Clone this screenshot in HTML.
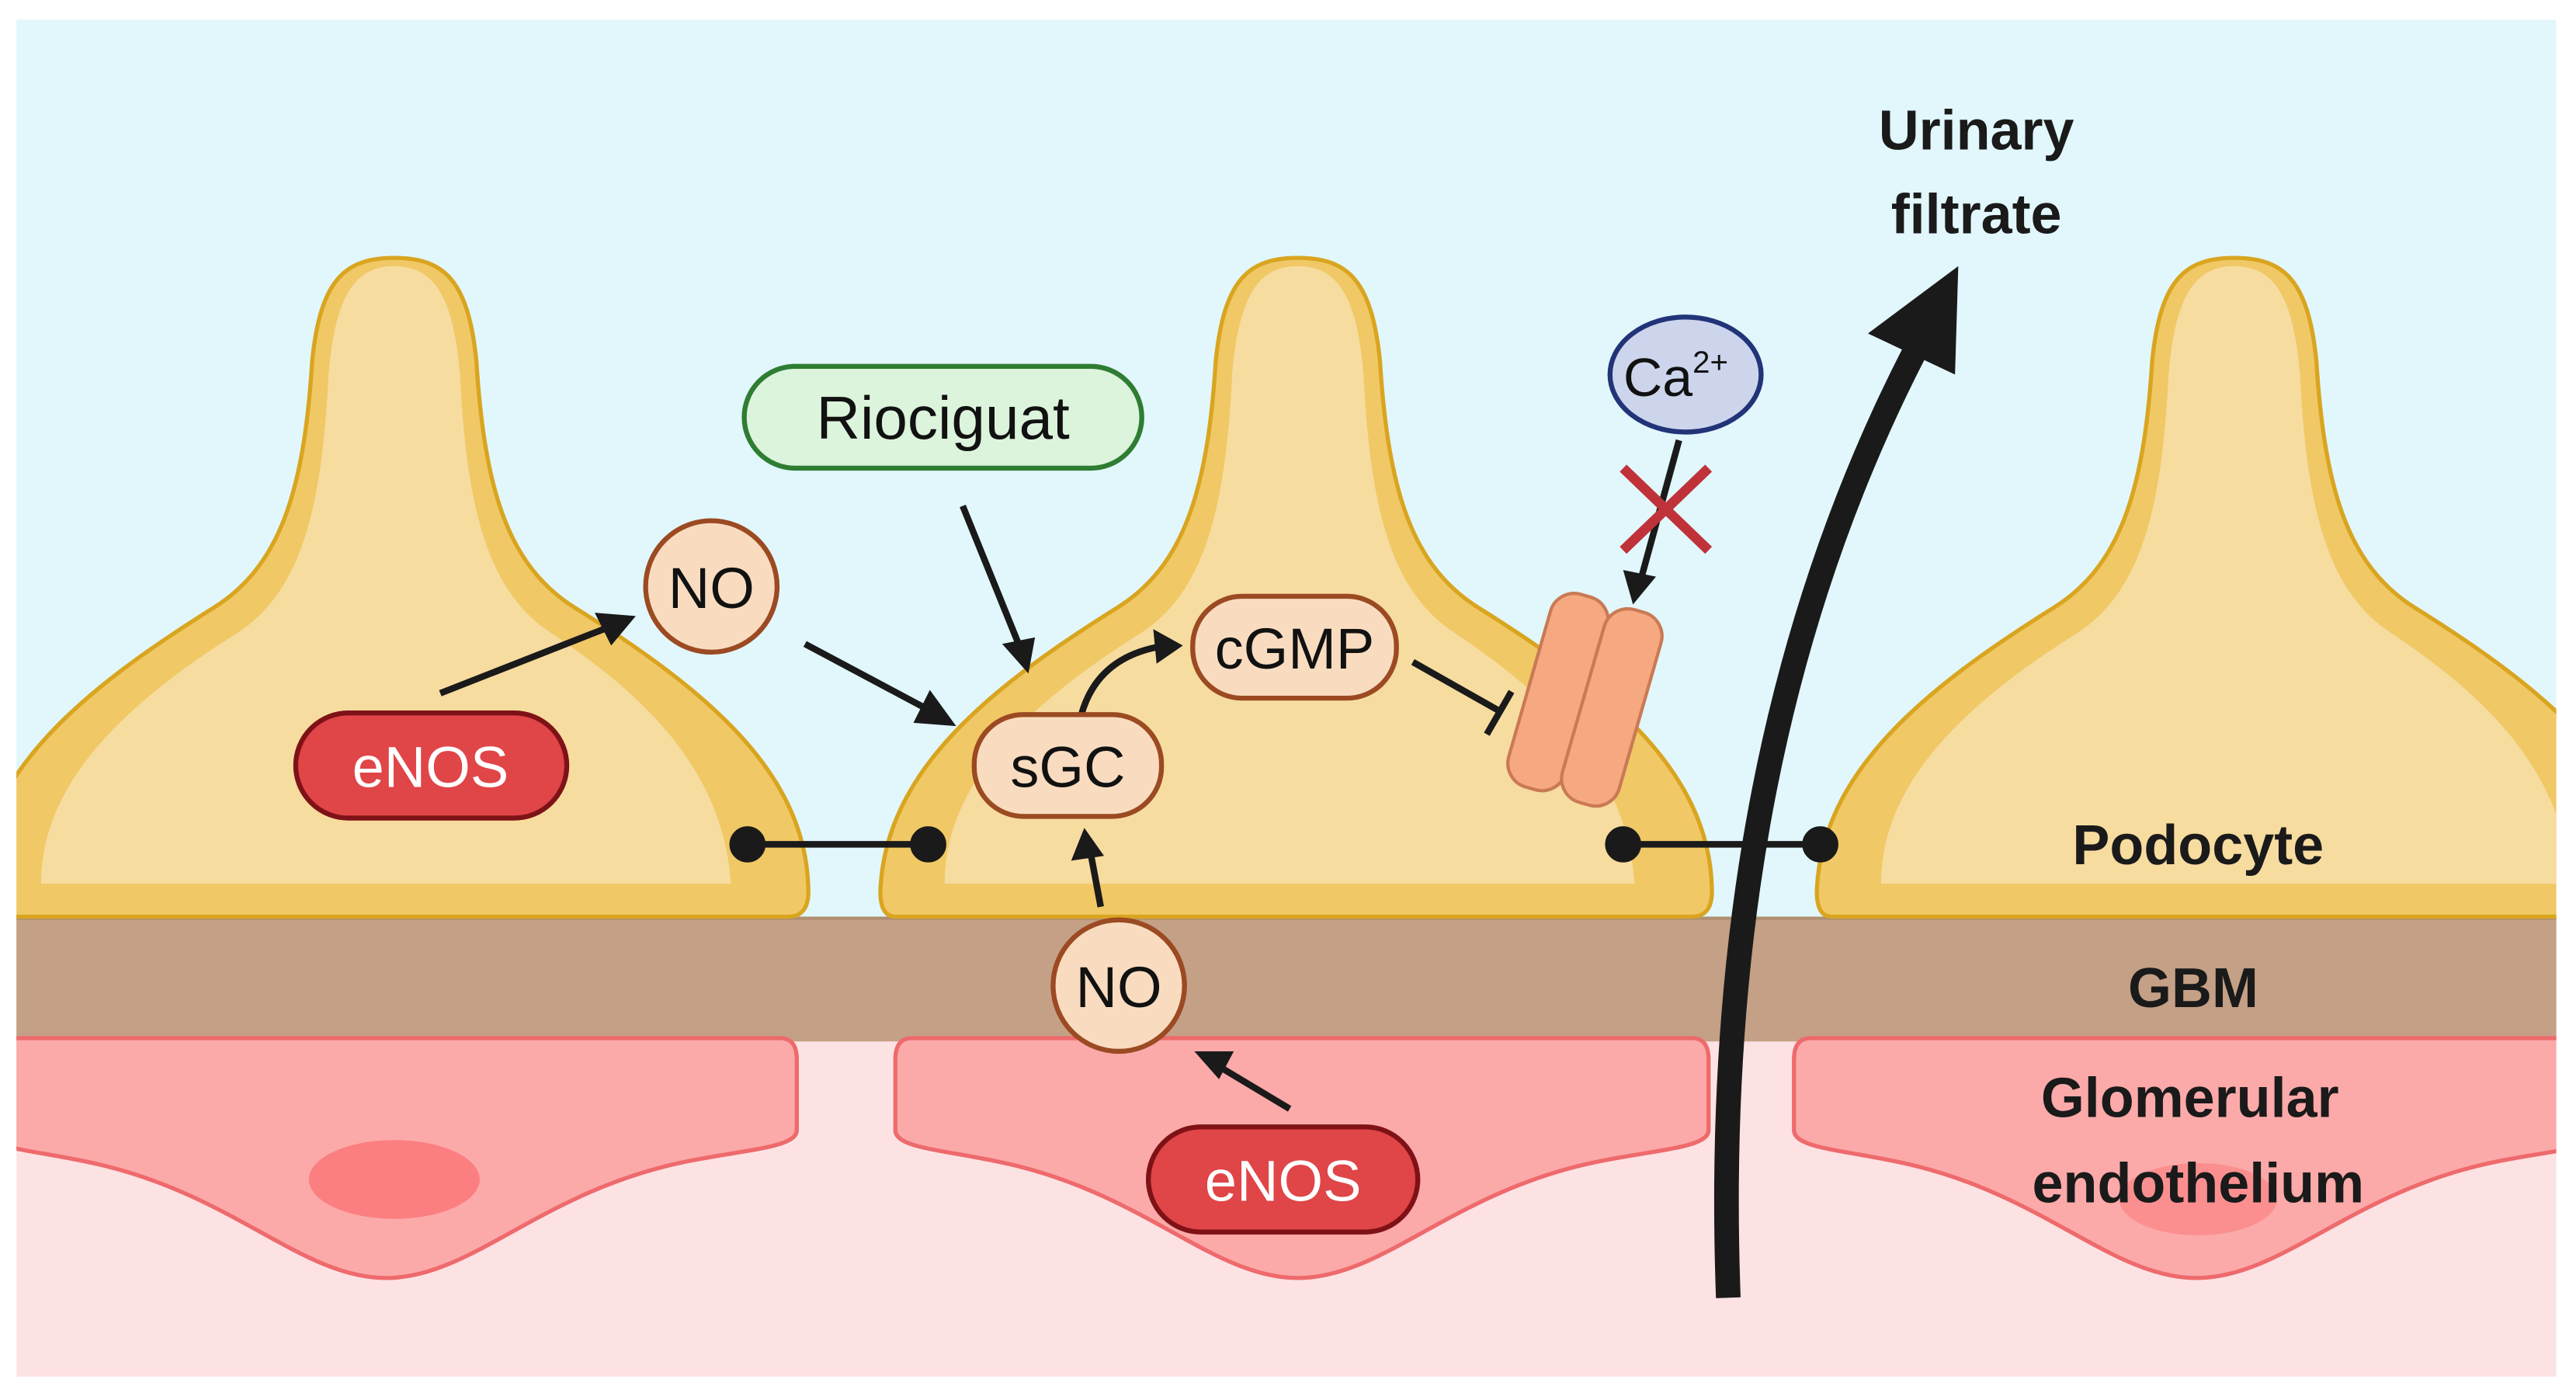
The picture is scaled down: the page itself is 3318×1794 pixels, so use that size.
<!DOCTYPE html>
<html><head><meta charset="utf-8"><style>
html,body{margin:0;padding:0;background:#fff;}
svg{display:block;}
text{font-family:"Liberation Sans",sans-serif;}
</style></head><body>
<svg width="3318" height="1794" viewBox="0 0 1568 848" preserveAspectRatio="none" xmlns="http://www.w3.org/2000/svg">
<defs>
<clipPath id="c"><rect x="10" y="12" width="1546" height="826"/></clipPath>
<path id="pod" d="M545,558 Q535,558 536,540 C540,470 600,420 680,370 C720,345 735,300 740,220 C745,170 760,157 790,157 C820,157 835,170 840,220 C845,300 860,345 900,370 C980,420 1040,470 1042,540 Q1043,558 1030,558 Z"/>
<path id="podIn" d="M575,538 C575,480 620,432 695,385 C733,360 746,310 750,228 C754,180 766,162 790,162 C814,162 826,180 830,228 C834,310 847,360 885,385 C945,425 990,470 995,538 Z"/>
<path id="endo" d="M555,632 L1030,632 Q1040,632 1040,645 L1040,688 C1040,700 1000,700 960,710 C880,730 840,778 790,778 C740,778 700,730 620,710 C580,700 545,700 545,688 L545,645 Q545,632 555,632 Z"/>
</defs>
<rect width="1568" height="848" fill="#fff"/>
<g clip-path="url(#c)">
<rect x="0" y="0" width="1568" height="560" fill="#e1f7fc"/>
<rect x="0" y="560" width="1568" height="300" fill="#fde2e3"/>
<rect x="0" y="558" width="1568" height="76" fill="#c4a086"/>
<line x1="0" y1="559" x2="1568" y2="559" stroke="#b08f72" stroke-width="2"/>
<g fill="#fca9a9" stroke="#ee6a6c" stroke-width="2.5">
<use href="#endo" transform="translate(-555,0)"/>
<use href="#endo"/>
<use href="#endo" transform="translate(547,0)"/>
</g>
<ellipse cx="240" cy="718" rx="52" ry="24" fill="#fb7f80"/>
<ellipse cx="1338" cy="730" rx="48" ry="22" fill="#fb8f90"/>
<g>
<use href="#pod" transform="translate(-550,0)" fill="#f0c865" stroke="#d9a520" stroke-width="2.5"/>
<use href="#podIn" transform="translate(-550,0)" fill="#f7dca0"/>
<use href="#pod" fill="#f0c865" stroke="#d9a520" stroke-width="2.5"/>
<use href="#podIn" fill="#f7dca0"/>
<use href="#pod" transform="translate(570,0)" fill="#f0c865" stroke="#d9a520" stroke-width="2.5"/>
<use href="#podIn" transform="translate(570,0)" fill="#f7dca0"/>
</g>
</g>
<g stroke="#1a1a1a" stroke-width="4" fill="#1a1a1a">
<line x1="455" y1="514" x2="565" y2="514"/><circle cx="455" cy="514" r="9"/><circle cx="565" cy="514" r="9"/>
<line x1="988" y1="514" x2="1108" y2="514"/><circle cx="988" cy="514" r="9"/><circle cx="1108" cy="514" r="9"/>
</g>
<path d="M1052,790 C1045,600 1070,400 1165,215" fill="none" stroke="#1a1a1a" stroke-width="15"/>
<polygon points="1192,162 1190,228 1137,203" fill="#1a1a1a"/>
<g stroke="#1a1a1a" stroke-width="4" fill="none">
<line x1="268" y1="422" x2="370" y2="382"/>
<line x1="490" y1="392" x2="565" y2="432"/>
<line x1="586" y1="308" x2="620" y2="392"/>
<path d="M657,440 Q665,402 704,394"/>
<line x1="860" y1="403" x2="913" y2="433"/>
<line x1="905" y1="447" x2="920" y2="421"/>
<line x1="1022" y1="268" x2="999" y2="352"/>
<line x1="670" y1="552" x2="664" y2="520"/>
<line x1="785" y1="675" x2="740" y2="648"/>
</g>
<g fill="#1a1a1a">
<polygon points="387,375 362,373 372,393"/>
<polygon points="582,442 556,440 566,420"/>
<polygon points="626,410 610,392 630,388"/>
<polygon points="720,393 702,383 704,404"/>
<polygon points="994,368 988,347 1008,351"/>
<polygon points="660,504 652,524 672,521"/>
<polygon points="727,640 742,657 751,640"/>
</g>
<g stroke="#c0323a" stroke-width="6"><line x1="988" y1="285" x2="1040" y2="335"/><line x1="1040" y1="285" x2="988" y2="335"/></g>
<g transform="rotate(16 965 425)" stroke="#c97a55" stroke-width="2" fill="#f6a880">
<rect x="930" y="365" width="36" height="122" rx="15"/>
<rect x="964" y="365" width="36" height="122" rx="15"/>
</g>
<ellipse cx="1026" cy="228" rx="46" ry="35" fill="#cdd5ec" stroke="#223478" stroke-width="3"/>
<text x="1020" y="241" font-size="33" text-anchor="middle" fill="#111">Ca<tspan font-size="19" dy="-14">2+</tspan></text>
<circle cx="433" cy="357" r="40" fill="#f9dcc0" stroke="#9b4a22" stroke-width="3"/>
<text x="433" y="370" font-size="35" text-anchor="middle" fill="#111">NO</text>
<circle cx="681" cy="600" r="40" fill="#f9dcc0" stroke="#9b4a22" stroke-width="3"/>
<text x="681" y="613" font-size="35" text-anchor="middle" fill="#111">NO</text>
<rect x="180" y="434" width="165" height="64" rx="32" fill="#e04548" stroke="#7e1216" stroke-width="3"/>
<text x="262" y="479" font-size="35" text-anchor="middle" fill="#fff">eNOS</text>
<rect x="699" y="686" width="164" height="64" rx="32" fill="#e04548" stroke="#7e1216" stroke-width="3"/>
<text x="781" y="731" font-size="35" text-anchor="middle" fill="#fff">eNOS</text>
<rect x="453" y="223" width="242" height="62" rx="31" fill="#dcf3dc" stroke="#2e7d32" stroke-width="3"/>
<text x="574" y="267" font-size="37" text-anchor="middle" fill="#111">Riociguat</text>
<rect x="593" y="435" width="114" height="62" rx="30" fill="#f9dcc0" stroke="#9b4a22" stroke-width="3"/>
<text x="650" y="479" font-size="35" text-anchor="middle" fill="#111">sGC</text>
<rect x="726" y="363" width="124" height="62" rx="30" fill="#f9dcc0" stroke="#9b4a22" stroke-width="3"/>
<text x="788" y="407" font-size="35" text-anchor="middle" fill="#111">cGMP</text>
<g font-weight="bold" font-size="34" fill="#1a1a1a" text-anchor="middle">
<text x="1203" y="91">Urinary</text>
<text x="1203" y="142">filtrate</text>
<text x="1338" y="526">Podocyte</text>
<text x="1335" y="613">GBM</text>
<text x="1333" y="680">Glomerular</text>
<text x="1338" y="732">endothelium</text>
</g>
</svg>
</body></html>
